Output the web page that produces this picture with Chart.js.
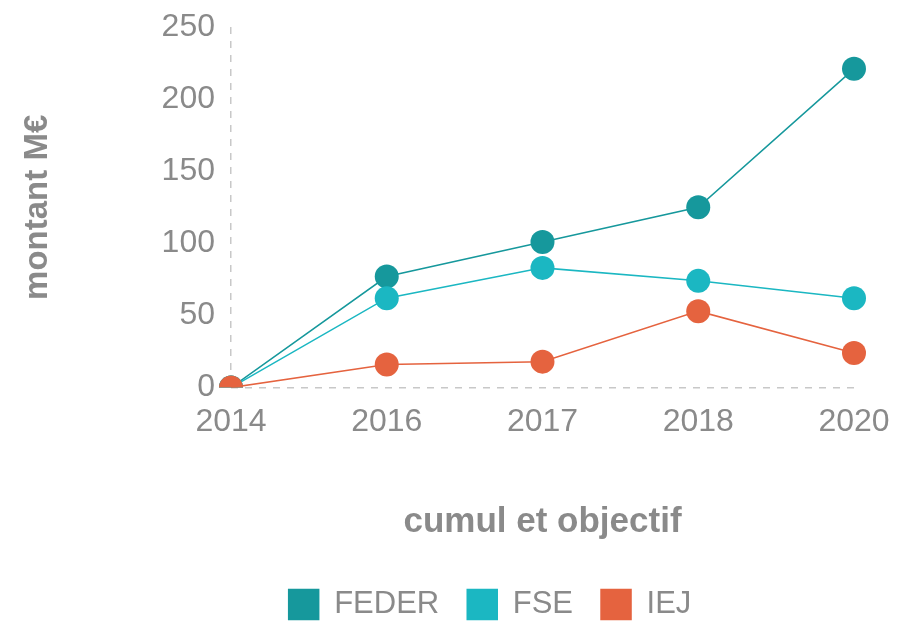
<!DOCTYPE html>
<html lang="fr">
<head>
    <meta charset="UTF-8">
    <title>montant M€</title>
    <script src="https://cdn.jsdelivr.net/npm/chart.js"></script>
    <style>
        html, body { margin: 0; padding: 0; background: #fff; }
        .chart-container { width: 917px; height: 624px; }
    </style>
</head>
<body>
    <div class="chart-container">
        <canvas id="montantChart" width="917" height="624"></canvas>
    </div>

    <script>
        // données
        const annees = ['2014', '2016', '2017', '2018', '2020'];
        const feder = [0, 77, 101, 125, 221];
        const fse = [0, 62, 83, 74, 62];
        const iej = [0, 16, 18, 53, 24];
        const graduations = [0, 50, 100, 150, 200, 250];

        const couleurFeder = '#16989c';
        const couleurFse = '#1bb7c2';
        const couleurIej = '#e5633f';
        const gris = '#8a8a8a';
        const police = 'Liberation Sans, Arial, sans-serif';

        function serie(label, data, couleur, ordre) {
            return {
                label: label,
                data: data,
                borderColor: couleur,
                backgroundColor: couleur,
                borderWidth: 1.5,
                pointRadius: 12,
                pointHoverRadius: 12,
                pointBorderWidth: 0,
                fill: false,
                tension: 0,
                order: ordre
            };
        }

        // seule la première ligne de grille est visible (pointillés)
        const premiereLigne = c => c.index === 0 ? '#c8c8c8' : 'rgba(0,0,0,0)';

        // la légende de l'original n'est pas centrée sur le canvas : on la décale
        const decalageLegende = {
            id: 'decalageLegende',
            afterLayout(chart) {
                const dx = 63;
                chart.legend.left += dx;
                chart.legend.right += dx;
            }
        };

        const ctx = document.getElementById('montantChart').getContext('2d');
        new Chart(ctx, {
            type: 'line',
            data: {
                labels: annees,
                datasets: [
                    serie('FEDER', feder, couleurFeder, 2),
                    serie('FSE', fse, couleurFse, 1),
                    serie('IEJ', iej, couleurIej, 0)
                ]
            },
            plugins: [decalageLegende],
            options: {
                responsive: false,
                animation: false,
                layout: { padding: { top: 0, right: 63, left: 0, bottom: -6 } },
                scales: {
                    x: {
                        offset: false,
                        grid: { display: true, drawTicks: false, color: premiereLigne, lineWidth: 1.5 },
                        border: { display: false, dash: [7, 7] },
                        ticks: {
                            color: gris,
                            font: { family: police, size: 32 },
                            padding: 15,
                            maxRotation: 0
                        },
                        title: {
                            display: true,
                            text: 'cumul et objectif',
                            color: gris,
                            font: { family: police, size: 35, weight: 'bold' },
                            padding: { top: 45, bottom: 18 }
                        }
                    },
                    y: {
                        min: 0,
                        max: 250,
                        grid: { display: true, drawTicks: false, color: premiereLigne, lineWidth: 1.5 },
                        border: { display: false, dash: [7, 7] },
                        afterBuildTicks: axis => {
                            axis.ticks = graduations.map(v => ({ value: v }));
                        },
                        afterFit: axis => {
                            axis.paddingTop = 27;
                        },
                        ticks: {
                            color: gris,
                            font: { family: police, size: 32 },
                            padding: 16
                        },
                        title: {
                            display: true,
                            text: 'montant M€',
                            color: gris,
                            font: { family: police, size: 33, weight: 'bold' },
                            padding: { top: 18, bottom: 88 }
                        }
                    }
                },
                plugins: {
                    tooltip: { enabled: false },
                    legend: {
                        position: 'bottom',
                        labels: {
                            boxWidth: 30,
                            boxHeight: 30,
                            padding: 28,
                            color: gris,
                            font: { family: police, size: 31 },
                            sort: (a, b) => a.datasetIndex - b.datasetIndex
                        }
                    }
                }
            }
        });
    </script>
</body>
</html>
